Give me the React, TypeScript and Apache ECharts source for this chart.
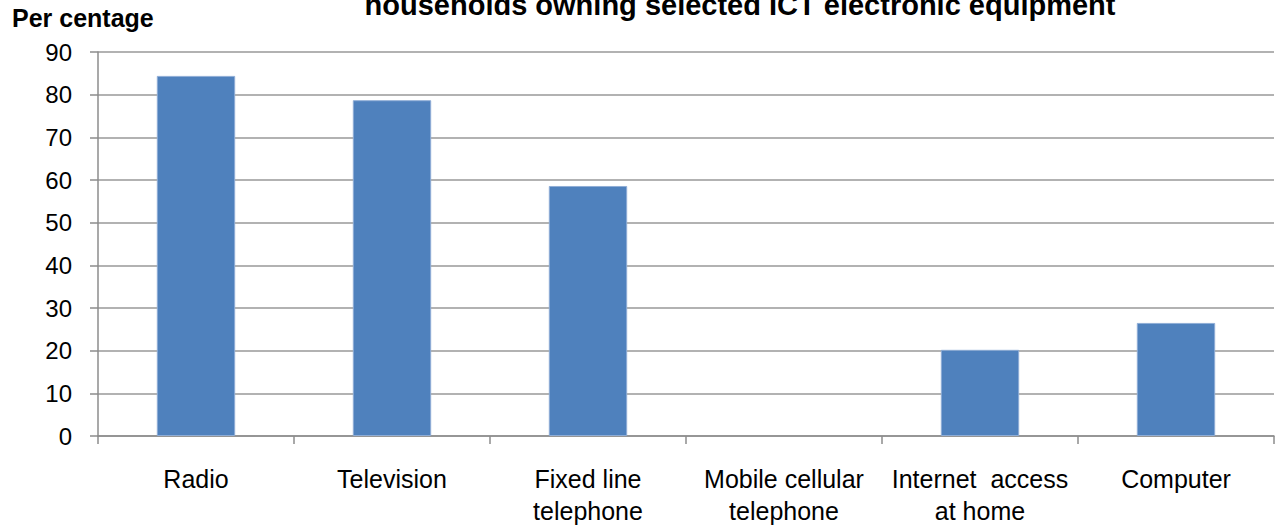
import React, { useEffect, useRef } from "react";
import * as echarts from "echarts";

const categories = [
  "Radio",
  "Television",
  "Fixed line\ntelephone",
  "Mobile cellular\ntelephone",
  "Internet  access\nat home",
  "Computer",
];
const values = [84.4, 78.7, 58.6, 0, 20.2, 26.5];
const yTicks = { min: 0, max: 90, interval: 10 };
const titleText = "households owning selected ICT electronic equipment";
const yName = "Per centage";

const FONT = "'Liberation Sans', Arial, sans-serif";

export default function App() {
  const ref = useRef<HTMLDivElement>(null);
  useEffect(() => {
    if (!ref.current) return;
    const chart = echarts.init(ref.current, null, { renderer: "svg" });
    chart.setOption({
      animation: false,
      backgroundColor: "#ffffff",
      textStyle: { fontFamily: FONT },
      graphic: [
        {
          type: "text",
          x: 740,
          y: 5,
          style: {
            text: titleText,
            font: `bold 29px ${FONT}`,
            fill: "#000",
            align: "center",
            verticalAlign: "middle",
          },
        },
        {
          type: "text",
          x: 12,
          y: 18,
          style: {
            text: yName,
            font: `bold 25px ${FONT}`,
            fill: "#000",
            align: "left",
            verticalAlign: "middle",
          },
        },
      ],
      grid: { left: 98, right: 2, top: 52, bottom: 91, containLabel: false },
      xAxis: {
        type: "category",
        data: categories,
        axisLine: { lineStyle: { color: "#8c8c8c", width: 1.5 } },
        axisTick: { show: true, length: 8, alignWithLabel: false, lineStyle: { color: "#8c8c8c", width: 1.5 } },
        axisLabel: {
          color: "#000",
          fontSize: 25,
          fontFamily: FONT,
          lineHeight: 32,
          margin: 27,
          interval: 0,
        },
      },
      yAxis: {
        type: "value",
        min: yTicks.min,
        max: yTicks.max,
        interval: yTicks.interval,
        axisLine: { show: true, lineStyle: { color: "#8c8c8c", width: 1.5 } },
        axisTick: { show: true, length: 8, lineStyle: { color: "#8c8c8c", width: 1.5 } },
        axisLabel: { color: "#000", fontSize: 24, fontFamily: FONT, margin: 26 },
        splitLine: { lineStyle: { color: "#999999", width: 1.5 } },
      },
      series: [
        {
          type: "bar",
          data: values.map((v) => ({
            value: v,
            itemStyle: v === 0 ? { borderWidth: 0 } : undefined,
          })),
          barWidth: "40%",
          itemStyle: { color: "#4F81BD", borderColor: "#8FADD6", borderWidth: 1 },
        },
      ],
    });
    return () => chart.dispose();
  }, []);
  return <div ref={ref} style={{ width: 1276, height: 527, position: "absolute", left: 0, top: 0 }} />;
}
